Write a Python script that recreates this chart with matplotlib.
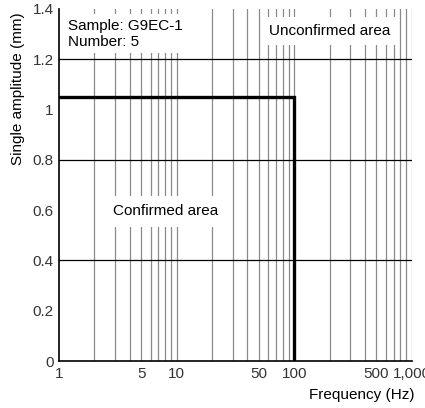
import numpy as np
import matplotlib.pyplot as plt
from matplotlib.ticker import FixedLocator, NullFormatter

plt.rcParams['font.family'] = ['Liberation Sans', 'DejaVu Sans']

# limit curve
freq = [1, 100, 100]
amp = [1.05, 1.05, 0]

xticks = [1, 5, 10, 50, 100, 500, 1000]
xlabels = ['1', '5', '10', '50', '100', '500', '1,000']
yticks = [0, 0.2, 0.4, 0.6, 0.8, 1.0, 1.2, 1.4]
ylabels = ['0', '0.2', '0.4', '0.6', '0.8', '1', '1.2', '1.4']
ygrid = [0.4, 0.8, 1.2]
xgrid = [m * d for d in [1, 10, 100] for m in range(2, 11)]

fs = 11
fig = plt.figure(figsize=(4.25, 4.08), dpi=100)
ax = fig.add_axes([0.139, 0.115, 0.83, 0.863])
ax.set_xscale('log')
ax.set_xlim(1, 1000)
ax.set_ylim(0, 1.4)

for x in xgrid:
    ax.axvline(x, color='#8a8a8a', lw=0.9, zorder=1)
for y in ygrid:
    ax.axhline(y, color='black', lw=0.9, zorder=1)

ax.plot(freq, amp, color='black', lw=2.4, zorder=3, solid_joinstyle='miter')

ax.xaxis.set_major_locator(FixedLocator(xticks))
ax.xaxis.set_minor_formatter(NullFormatter())
ax.set_xticks(xticks)
ax.set_xticklabels(xlabels)
ax.set_yticks(yticks)
ax.set_yticklabels(ylabels)
ax.tick_params(which='both', length=0, labelsize=fs, colors='#333333', pad=4)
ax.spines['top'].set_visible(False)
ax.spines['right'].set_visible(False)
ax.spines['left'].set_linewidth(1.2)
ax.spines['bottom'].set_linewidth(1.2)

ax.text(1.2, 1.362, 'Sample: G9EC-1\nNumber: 5', fontsize=fs, va='top', ha='left',
        bbox=dict(facecolor='white', edgecolor='none', pad=3), zorder=4, linespacing=1.25)
ax.text(61, 1.312, 'Unconfirmed area', fontsize=fs, va='center', ha='left',
        bbox=dict(facecolor='white', edgecolor='none', pad=5), zorder=4)
ax.text(2.87, 0.596, 'Confirmed area', fontsize=fs, va='center', ha='left',
        bbox=dict(facecolor='white', edgecolor='none', pad=6), zorder=4)

fig.text(0.043, 0.97, 'Single amplitude (mm)', rotation=90, fontsize=fs,
         va='top', ha='center')
fig.text(0.976, 0.032, 'Frequency (Hz)', fontsize=fs, ha='right', va='center')

fig.savefig('out.png', dpi=100)
